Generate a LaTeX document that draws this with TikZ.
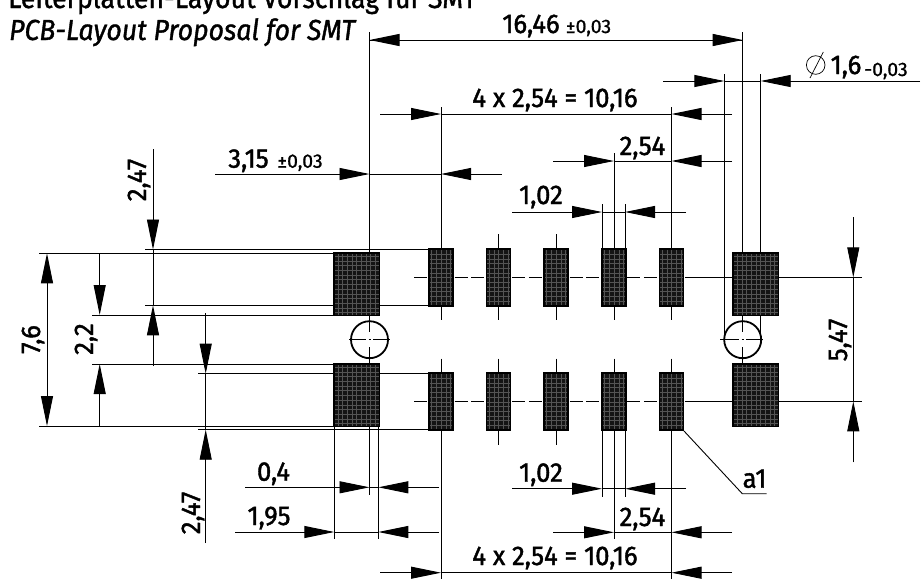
\documentclass[tikz,border=0pt]{standalone}
\usepackage{fontspec}
\setmainfont[FakeStretch=0.95,FakeBold=1.5]{Fira Sans}
\newfontfamily\capfont[FakeStretch=0.92,FakeBold=1.2]{Fira Sans}
\newfontfamily\tolfont[FakeStretch=1.0,FakeBold=0.9]{Fira Sans}
\usetikzlibrary{arrows.meta}
\definecolor{padgrid}{gray}{0.33}
\definecolor{padfill}{gray}{0.08}
\tikzset{
  x=1pt,y=-1pt,
  thinline/.style={line width=0.9pt,black},
  dimtip/.style={-{Triangle[length=30pt,width=12pt]},line width=0.9pt,black},
  padbox/.style={rectangle,draw=black,line width=1.5pt,fill=padfill,inner sep=0pt,outer sep=0pt,
    path picture={\draw[padgrid,line width=0.35pt,step=4.7pt]
      (path picture bounding box.south west) grid (path picture bounding box.north east);}},
  smallpad/.style={padbox,minimum width=24pt,minimum height=57pt},
  bigpad/.style={padbox,minimum width=45.5pt,minimum height=62.5pt},
  dimtext/.style={font=\fontsize{27}{27}\selectfont,anchor=base,inner sep=0pt},
  toltext/.style={font=\tolfont\fontsize{19.5}{20}\selectfont,anchor=base,inner sep=0pt},
  holeline/.style={line width=1.8pt,black},
}
\begin{document}
\begin{tikzpicture}
\useasboundingbox (0,0) rectangle (922,579);
\clip (0,0) rectangle (922,579);
% titles
\node[font=\capfont\fontsize{29}{29}\selectfont,anchor=base west,inner sep=0pt] (t1) at (8,8) {Leiterplatten-Layout Vorschlag für SMT};
\node[font=\capfont\itshape\fontsize{29}{29}\selectfont,anchor=base west,inner sep=0pt] (t2) at (9,40) {PCB-Layout Proposal for SMT};
% extension lines, vertical
\draw[thinline] (369.5,32)--(369.5,332) (369.5,347)--(369.5,495);
\draw[thinline] (742.7,32)--(742.7,332) (742.7,347)--(742.7,364);
\draw[thinline] (724.3,74)--(724.3,339.7) (760.7,74)--(760.7,339.7);
\foreach \cx/\ct/\cb in {441/107/579,498.5/234/445,556/234/445,614/153/539,671.5/107/579}{
  \draw[thinline] (\cx,\ct)--(\cx,320) (\cx,358.7)--(\cx,\cb);
}
\draw[thinline] (602,204)--(602,250) (625,204)--(625,250) (602,430)--(602,497) (625,430)--(625,497);
\draw[thinline] (334.3,426)--(334.3,539) (378.3,426)--(378.3,539);
% extension lines, horizontal
\draw[thinline] (39,253.3)--(334,253.3) (39,426)--(334,426) (92,315)--(334,315) (92,364)--(334,364);
\draw[thinline] (145,249.5)--(429,249.5) (145,305.3)--(429,305.3) (198,373.7)--(429,373.7) (198,429.7)--(429,429.7);
% centre lines
\foreach \cy in {277.3,401.3}{
  \draw[thinline] (414,\cy)--(427,\cy);
  \foreach \ca in {454.7,512.2,569.7,627.2}{
    \draw[thinline] (\ca,\cy)--++(13,0) (\ca+16.6,\cy)--++(13,0);
  }
  \draw[thinline] (685,\cy)--(862,\cy);
}
% holes
\foreach \hx/\hl/\hr in {369.5/349/389.7,742.7/720/762.7}{
  \draw[thinline] (\hl,339.7)--(\hx-3.5,339.7) (\hx-1,339.7)--(\hx+1,339.7) (\hx+3.5,339.7)--(\hr,339.7);
  \draw[holeline] (\hx,339.7) circle[radius=18.5];
}
% pads
\foreach \pn/\px in {a/441,b/498.5,c/556,d/614,e/671.5}{
  \node[smallpad] (top\pn) at (\px,277.5) {};
  \node[smallpad] (bot\pn) at (\px,401.7) {};
}
\node[bigpad] (bigtl) at (356.5,284.3) {};
\node[bigpad] (bigbl) at (356.5,395.3) {};
\node[bigpad] (bigtr) at (755.8,284.3) {};
\node[bigpad] (bigbr) at (755.8,395.3) {};
% horizontal dimensions
\draw[dimtip] (742.7,40)--(369.5,40);
\draw[dimtip] (369.5,40)--(742.7,40);
\draw[dimtip] (663,81)--(724.3,81);
\draw[dimtip] (920,81)--(760.7,81);
\draw[thinline] (724.3,81)--(760.7,81);
\foreach \ry in {114,572.7}{
  \draw[dimtip] (380,\ry)--(441,\ry);
  \draw[dimtip] (732,\ry)--(671.5,\ry);
  \draw[thinline] (441,\ry)--(671.5,\ry);
}
\foreach \ry in {161,532.3}{
  \draw[dimtip] (553,\ry)--(614,\ry);
  \draw[dimtip] (732,\ry)--(671.5,\ry);
  \draw[thinline] (614,\ry)--(671.5,\ry);
}
\draw[dimtip] (215,174)--(369.5,174);
\draw[dimtip] (501.7,174)--(441,174);
\draw[thinline] (369.5,174)--(441,174);
\foreach \ry in {212,488.7}{
  \draw[dimtip] (512,\ry)--(602,\ry);
  \draw[dimtip] (686,\ry)--(625,\ry);
  \draw[thinline] (602,\ry)--(625,\ry);
}
\draw[dimtip] (245,487.3)--(369.5,487.3);
\draw[dimtip] (439,487.3)--(378.3,487.3);
\draw[thinline] (369.5,487.3)--(378.3,487.3);
\draw[dimtip] (235,532)--(334.3,532);
\draw[dimtip] (439,532)--(378.3,532);
\draw[thinline] (334.3,532)--(378.3,532);
% vertical dimensions
\draw[dimtip] (47,339)--(47,253.3);
\draw[dimtip] (47,339)--(47,426);
\draw[dimtip] (99.7,253.3)--(99.7,315);
\draw[dimtip] (99.7,426)--(99.7,364);
\draw[dimtip] (153,149)--(153,249.5);
\draw[dimtip] (153,366)--(153,305.3);
\draw[thinline] (153,249.5)--(153,305.3);
\draw[dimtip] (205.7,313)--(205.7,373.7);
\draw[dimtip] (205.7,543)--(205.7,429.7);
\draw[thinline] (205.7,373.7)--(205.7,429.7);
\draw[dimtip] (853.3,217)--(853.3,277.3);
\draw[dimtip] (853.3,462.3)--(853.3,401.3);
\draw[thinline] (853.3,277.3)--(853.3,401.3);
% leader
\draw[thinline] (684,431)--(742.3,493.7)--(766.7,493.7);
% diameter sign
\draw[line width=0.7pt] (815.7,65) circle[radius=9.3] (810,78)--(823.3,52);
% texts
\node[dimtext] (d1) at (531,33) {16,46};
\node[toltext] (d1t) at (588.5,33) {±0,03};
\node[dimtext] (d2) at (555,107) {4 x 2,54 = 10,16};
\node[dimtext] (d3) at (642.5,155) {2,54};
\node[dimtext] (d4) at (248.5,167.7) {3,15};
\node[toltext] (d4t) at (300,167.7) {±0,03};
\node[dimtext] (d5) at (541,204) {1,02};
\node[dimtext] (d6) at (846,74) {1,6};
\node[toltext] (d6t) at (886,76) {-0,03};
\node[dimtext] (d7) at (273.5,480.7) {0,4};
\node[dimtext] (d8) at (269,525) {1,95};
\node[dimtext] (d9) at (541,481.7) {1,02};
\node[dimtext] (d10) at (642.5,526) {2,54};
\node[dimtext] (d11) at (555,565) {4 x 2,54 = 10,16};
\node[dimtext] (d12) at (754.5,487.7) {a1};
\node[dimtext,rotate=90] (v1) at (146,180) {2,47};
\node[dimtext,rotate=90] (v2) at (200,513) {2,47};
\node[dimtext,rotate=90] (v3) at (40,339.5) {7,6};
\node[dimtext,rotate=90] (v4) at (93,339) {2,2};
\node[dimtext,rotate=90] (v5) at (847,340) {5,47};
\end{tikzpicture}
\end{document}
